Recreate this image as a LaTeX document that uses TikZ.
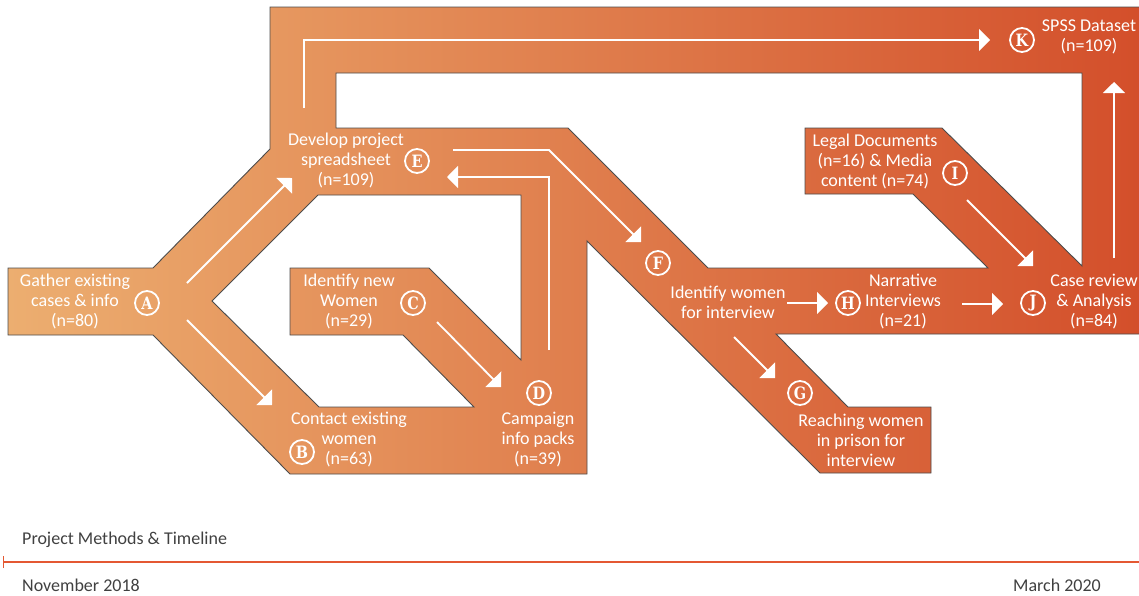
\documentclass[tikz,border=0pt]{standalone}
\usepackage{fontspec}
\setmainfont{Carlito}
\newfontfamily\letterfont[FakeStretch=0.85]{DejaVu Serif}
\usetikzlibrary{arrows.meta}

\definecolor{orL}{RGB}{236,174,112}
\definecolor{orM}{RGB}{223,121,52}
\definecolor{orR}{RGB}{211,78,42}
\definecolor{tline}{RGB}{228,88,50}

\begin{document}
\begin{tikzpicture}[x=1pt,y=-1pt,
  band/.style={even odd rule,left color=orL,middle color=orM,right color=orR,draw=black!70,line width=0.9pt},
  lbl/.style={text=white,align=center,font=\fontsize{18}{20}\selectfont,inner sep=0pt},
  letter/.style={circle,draw=white,line width=1.8pt,text=white,minimum size=24pt,inner sep=0pt,font=\letterfont\bfseries\fontsize{17}{17}\selectfont},
  flow/.style={white,line width=1.8pt,-{Triangle[length=11pt,width=22pt]}},
  note/.style={text=black!75,font=\fontsize{18}{20}\selectfont,inner sep=0pt}]

\useasboundingbox (0,0) rectangle (1139,595);

% the band with its two holes
\shadedraw[band] (270,7) -- (1150,7) -- (1150,334) -- (776,334) -- (848,407) -- (931,407)
   -- (931,473) -- (820,473) -- (587,241) -- (587,474) -- (290,474) -- (153,335)
   -- (8,335) -- (8,268) -- (153,268) -- (270,149) -- cycle
  (336,73) -- (1082,73) -- (1082,266) -- (942,128) -- (805,128) -- (805,194) -- (913,194)
   -- (988,268) -- (708,268) -- (568,128) -- (336,128) -- cycle
  (212,301) -- (318,195) -- (521,195) -- (521,360) -- (429,268) -- (290,268) -- (290,335)
   -- (403,335) -- (474,407) -- (319,407) -- cycle;

% steps
\node[lbl] (gather)    at (75,301)   {Gather existing\\cases \& info\\(n=80)};
\node[lbl] (contact)   at (349,440)  {Contact existing\\women\\(n=63)};
\node[lbl] (identify)  at (349,301)  {Identify new\\Women\\(n=29)};
\node[lbl] (campaign)  at (538,440)  {Campaign\\info packs\\(n=39)};
\node[lbl] (develop)   at (346,160)  {Develop project\\spreadsheet\\(n=109)};
\node[lbl] (findw)     at (728,302)  {Identify women\\for interview};
\node[lbl] (prison)    at (861,440)  {Reaching women\\in prison for\\interview};
\node[lbl] (narrative) at (903,302)  {Narrative\\Interviews\\(n=21)};
\node[lbl] (legal)     at (875,161)  {Legal Documents\\(n=16) \& Media\\content (n=74)};
\node[lbl] (review)    at (1094,302) {Case review\\\& Analysis\\(n=84)};
\node[lbl] (spss)      at (1089,37)  {SPSS Dataset\\(n=109)};

\node[letter] (A) at (147,303) {A};
\node[letter] (B) at (302,452) {B};
\node[letter] (C) at (413,303) {C};
\node[letter] (D) at (539,393) {D};
\node[letter] (E) at (417,161) {E};
\node[letter] (F) at (658,263) {F};
\node[letter] (G) at (800,393) {G};
\node[letter] (H) at (848,303) {H};
\node[letter] (I) at (955,173) {I};
\node[letter] (J) at (1033,303) {J};
\node[letter] (K) at (1022,40) {K};

% arrow ends
\coordinate (ae1) at (187,283);  \coordinate (ae2) at (292,178);
\coordinate (ab1) at (187,320);  \coordinate (ab2) at (272,405);
\coordinate (cd1) at (437,322);  \coordinate (cd2) at (501,387);
\coordinate (de1) at (549,350);  \coordinate (de2) at (447,177);
\coordinate (ek1) at (304,108);  \coordinate (ek2) at (990,40);
\coordinate (ef1) at (453,150);  \coordinate (efm) at (549,150);  \coordinate (ef2) at (641,242);
\coordinate (fh1) at (787,303);  \coordinate (fh2) at (828,303);
\coordinate (fg1) at (734,337);  \coordinate (fg2) at (775,378);
\coordinate (hj1) at (962,304);  \coordinate (hj2) at (1003,304);
\coordinate (ij1) at (967,200);  \coordinate (ij2) at (1033,266);
\coordinate (jk1) at (1114,258); \coordinate (jk2) at (1114,82);

\draw[flow] (ae1) -- (ae2);
\draw[flow] (ab1) -- (ab2);
\draw[flow] (cd1) -- (cd2);
\draw[flow] (de1) |- (de2);
\draw[flow] (ek1) |- (ek2);
\draw[flow] (ef1) -- (efm) -- (ef2);
\draw[flow] (fh1) -- (fh2);
\draw[flow] (fg1) -- (fg2);
\draw[flow] (hj1) -- (hj2);
\draw[flow] (ij1) -- (ij2);
\draw[flow] (jk1) -- (jk2);

% timeline
\coordinate (t0) at (3,562);
\coordinate (t1) at (1145,562);
\draw[tline,line width=1.8pt,{Bar[width=12pt,line width=1.2pt]}-] (t0) -- (t1);
\node[note,anchor=base west] (title) at (22,544) {Project Methods \& Timeline};
\node[note,anchor=base west] (start) at (22,591) {November 2018};
\node[note,anchor=base east] (end)   at (1101,591) {March 2020};
\end{tikzpicture}
\end{document}
